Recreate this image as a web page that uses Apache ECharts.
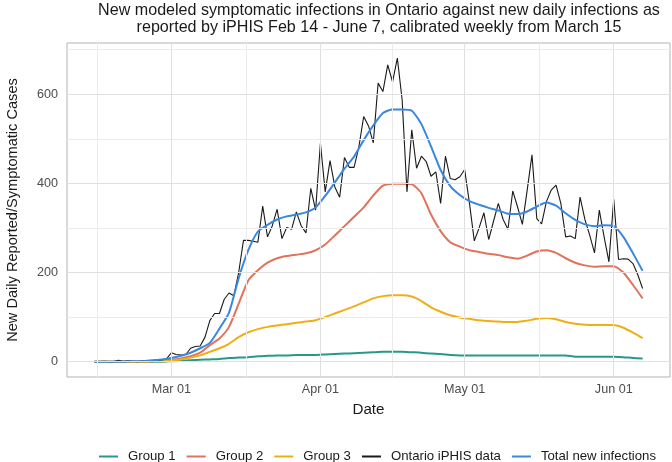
<!DOCTYPE html>
<html><head><meta charset="utf-8">
<script src="https://cdn.jsdelivr.net/npm/echarts@6/dist/echarts.min.js"></script>
<style>html,body{margin:0;padding:0;background:#fff;overflow:hidden}#c{width:672px;height:462px}</style>
</head><body><div id="c"></div>
<script>
// ---- data ----
const startDate = '2020-02-14';           // first day of all series
const modelStepDays = 2;                  // model curves read every 2 days
const reportedDaily = [
  0,0,1,0,0,3,1,2,1,0,2,1,0,2,4,
  6,20,16,15,16,
  30,34,35,55,92,108,108,140,154,148,
  200,272,272,270,268,349,280,305,342,276,
  301,297,336,305,289,389,340,490,381,451,
  392,369,458,436,436,482,550,529,491,625,
  606,666,628,681,587,381,520,434,461,449,
  416,426,355,461,411,408,415,431,355,271,
  300,334,274,315,355,319,297,383,347,308,
  385,464,321,309,359,385,396,355,280,282,
  276,369,319,284,244,340,280,224,364,229,
  231,230,220,195,164
];
const group1 = [0,0,0,0,0,0,0,0, 1,2,3,4,5,6,8,9, 10,12,13,14,14,15,15,15, 16,17,18,19,20,21,22,22,
  22,21,20,18,17,15,14,14, 14,14,14,14,14,14,14,14, 14,14,11,11,11,11,11,10, 8,7];
const group2 = [0,0,0,0,0,0,1,2, 4,7,12,20,37,52,78,130, 182,205,222,232,237,240,243,250,
  263,283,304,325,346,373,395,399, 399,398,378,330,293,268,258,250, 246,242,239,234,231,238,247,250,
  244,232,222,216,213,214,214,200, 172,142];
const group3 = [0,0,0,0,0,0,1,1, 2,5,9,14,22,30,40,55, 66,73,78,81,84,87,90,93,
  100,108,116,124,133,142,147,149, 149,146,136,122,112,104,99,96, 93,91,90,89,89,92,96,98,
  95,89,85,83,82,82,82,76, 65,53];
const totalNew = [0,0,0,0,1,1,3,5, 8,13,20,30,42,74,110,187, 250,292,307,319,326,330,335,346,
  372,402,433,460,497,530,558,566, 566,563,533,483,430,394,374,360, 352,345,339,332,331,337,348,357,
  350,333,318,308,304,306,304,280, 243,204];
const seriesNames = ['Group 1','Group 2','Group 3','Ontario iPHIS data','Total new infections'];
const tickDates = ['2020-03-01','2020-04-01','2020-05-01','2020-06-01'];
const tickLabels = ['Mar 01','Apr 01','May 01','Jun 01'];
const yTicks = [0,200,400,600];
const yMinorTicks = [100,300,500,700];

// ---- helpers ----
function dayIndex(s){
  const p = s.split('-').map(Number), q = startDate.split('-').map(Number);
  return (Date.UTC(p[0],p[1]-1,p[2]) - Date.UTC(q[0],q[1]-1,q[2]))/86400000;
}
const tickDays = tickDates.map(dayIndex);
const minorDays = [tickDays[0] - (tickDays[1]-tickDays[0])/2];
for (let i=0;i<tickDays.length-1;i++) minorDays.push((tickDays[i]+tickDays[i+1])/2);
const lastDay = reportedDaily.length - 1;
const xPad = lastDay*0.05;
const modelData = arr => arr.map((v,i)=>[i*modelStepDays, v]);

const FONT = "'Liberation Sans',Arial,sans-serif";
const colors = ['#26998A','#E2725B','#F0AE16','#1a1a1a','#3A87E0'];

const chart = echarts.init(document.getElementById('c'), null, {renderer:'canvas'});
const gridLines = [];
minorDays.forEach(d=>gridLines.push({xAxis:d, lineStyle:{color:'#ebebeb',width:1,type:'solid'}}));
tickDays.forEach(d=>gridLines.push({xAxis:d, lineStyle:{color:'#e0e0e0',width:1,type:'solid'}}));
yMinorTicks.forEach(v=>gridLines.push({yAxis:v, lineStyle:{color:'#ebebeb',width:1,type:'solid'}}));
yTicks.forEach(v=>gridLines.push({yAxis:v, lineStyle:{color:'#e0e0e0',width:1,type:'solid'}}));

const lineSeries = (name, data, idx, w, smooth) => ({
  name, type:'line', data, showSymbol:false, symbol:'none', smooth: smooth,
  lineStyle:{color:colors[idx], width:w}, itemStyle:{color:colors[idx]}, z:3, silent:true,
  animation:false
});

chart.setOption({
  animation:false,
  textStyle:{fontFamily:FONT},
  title:{
    text:'New modeled symptomatic infections in Ontario against new daily infections as\nreported by iPHIS Feb 14 - June 7, calibrated weekly from March 15',
    left:379, top:2, padding:0, textAlign:'center',
    textStyle:{fontFamily:FONT, fontSize:16.1, fontWeight:'normal', color:'#1a1a1a', lineHeight:17}
  },
  grid:{left:67, right:2, top:43, bottom:85, outerBoundsMode:'none', containLabel:false,
        show:true, borderColor:'#b3b3b3', borderWidth:1, backgroundColor:'#fff'},
  legend:{
    data:seriesNames, top:445, left:94, icon:'rect', itemWidth:19, itemHeight:2, itemGap:11,
    textStyle:{fontFamily:FONT, fontSize:13.2, color:'#1a1a1a', padding:[0,0,0,5]}
  },
  xAxis:{
    type:'value', min:-xPad, max:lastDay+xPad,
    name:'Date', nameLocation:'middle', nameGap:25,
    nameTextStyle:{fontFamily:FONT, fontSize:15.2, color:'#1a1a1a'},
    axisLine:{show:false},
    axisTick:{show:true, customValues:tickDays, length:3, lineStyle:{color:'#b3b3b3'}},
    axisLabel:{customValues:tickDays, formatter:v=>tickLabels[tickDays.indexOf(v)] || '', color:'#4d4d4d', fontSize:12.6, margin:6, fontFamily:FONT},
    splitLine:{show:false}
  },
  yAxis:{
    type:'value', min:-34.5, max:715,
    name:'New Daily Reported/Symptomatic Cases', nameLocation:'middle', nameGap:47,
    nameTextStyle:{fontFamily:FONT, fontSize:14.6, color:'#1a1a1a'},
    axisLine:{show:false},
    axisTick:{show:true, customValues:yTicks, length:3, lineStyle:{color:'#b3b3b3'}},
    axisLabel:{customValues:yTicks, color:'#4d4d4d', fontSize:12.6, margin:9, fontFamily:FONT},
    splitLine:{show:false}
  },
  series:[
    {name:'grid', type:'line', data:[[0,0]], showSymbol:false, symbol:'none', lineStyle:{opacity:0}, z:1, silent:true,
     markLine:{silent:true, symbol:['none','none'], label:{show:false}, animation:false, data:gridLines}},
    lineSeries(seriesNames[0], modelData(group1), 0, 2, 0.2),
    lineSeries(seriesNames[1], modelData(group2), 1, 2, 0.2),
    lineSeries(seriesNames[2], modelData(group3), 2, 2, 0.2),
    lineSeries(seriesNames[3], reportedDaily.map((v,i)=>[i,v]), 3, 1.1, false),
    lineSeries(seriesNames[4], modelData(totalNew), 4, 2, 0.2)
  ]
});
</script></body></html>
